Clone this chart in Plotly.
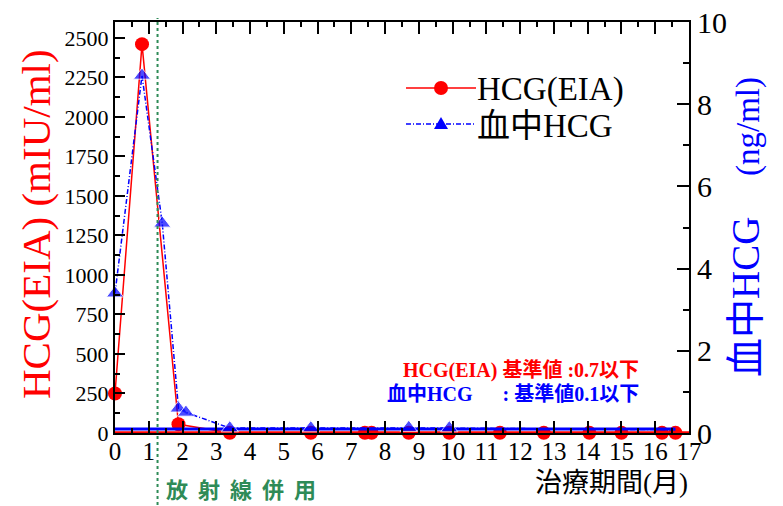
import plotly.graph_objects as go

# ---- data ----
eia_x = [0, 0.8, 1.88, 3.4, 5.8, 7.4, 7.6, 8.7, 9.9, 11.4, 12.7, 14.05, 15.0, 16.2, 16.6]
eia_y = [250, 2460, 55, 1, 1, 1, 1, 1, 1, 1, 1, 1, 1, 1, 1]

blood_x = [0, 0.8, 1.4, 1.88, 2.1, 3.4, 5.8, 8.7, 9.9, 16.6]
blood_y = [3.4, 8.7, 5.1, 0.6, 0.5, 0.12, 0.12, 0.13, 0.12, 0.08]

eia_ref = 0.7      # 基準値 mIU/ml
blood_ref = 0.1    # 基準値 ng/ml
ref_x_eia = [0, 17]
ref_x_blood = [0, 16.6]
radiation_start = 1.26

x_ticks = list(range(0, 18))
y_ticks = list(range(0, 2501, 250))
y2_ticks = list(range(0, 11, 2))

RED = "#FF0000"
BLUE = "#0000FF"
GREEN = "#2E8B57"
SERIF = "Times New Roman, Liberation Serif, Tinos, DejaVu Serif, serif"
GOTHIC = "Times New Roman, Liberation Serif, Noto Sans CJK JP, sans-serif"

fig = go.Figure()

# reference lines
fig.add_trace(go.Scatter(x=ref_x_eia, y=[eia_ref] * 2, mode="lines",
                         line=dict(color=RED, width=3.5), cliponaxis=False,
                         showlegend=False, hoverinfo="skip"))
fig.add_trace(go.Scatter(x=ref_x_blood, y=[blood_ref] * 2, mode="lines", yaxis="y2",
                         line=dict(color=BLUE, width=3), cliponaxis=False,
                         showlegend=False, hoverinfo="skip"))

# series
fig.add_trace(go.Scatter(x=eia_x, y=eia_y, mode="lines+markers", name="HCG(EIA)",
                         line=dict(color=RED, width=1.5),
                         marker=dict(symbol="circle", size=14, color=RED),
                         cliponaxis=False, showlegend=False))
blood_sizes = [15] * (len(blood_x) - 1) + [0]
fig.add_trace(go.Scatter(x=blood_x, y=blood_y, mode="lines+markers", name="血中HCG",
                         yaxis="y2",
                         line=dict(color=BLUE, width=1.5, dash="5px,2px,1px,2px"),
                         marker=dict(symbol="triangle-up", size=blood_sizes, color=BLUE),
                         cliponaxis=False, showlegend=False))

axis_common = dict(showline=True, linecolor="black", linewidth=2, showgrid=False,
                   zeroline=False, ticks="inside", tickwidth=2, tickcolor="black",
                   automargin=False, ticklabeloverflow="allow")

# page body has an 8px margin, so the figure is drawn 8px in and 16px smaller
fig.update_layout(
    template="none",
    width=775, height=498,
    margin=dict(l=107, r=94, t=14, b=73, autoexpand=False),
    plot_bgcolor="white", paper_bgcolor="white",
    showlegend=False,
    xaxis=dict(range=[0, 17], tickvals=x_ticks, ticklen=12, mirror="ticks",
               ticklabelstandoff=-5,
               tickfont=dict(family=SERIF, size=25, color="black"),
               minor=dict(dtick=0.5, ticklen=5, tickwidth=2, ticks="inside", tickcolor="black"),
               **axis_common),
    yaxis=dict(range=[0, 2600], tickvals=y_ticks, ticklen=10,
               tickfont=dict(family=SERIF, size=22, color="black"),
               minor=dict(dtick=125, ticklen=5, tickwidth=2, ticks="inside", tickcolor="black"),
               **axis_common),
    yaxis2=dict(range=[0, 10], tickvals=y2_ticks, ticklen=12, overlaying="y", side="right",
                tickfont=dict(family=SERIF, size=30, color="black"),
                minor=dict(dtick=1, ticklen=6, tickwidth=2, ticks="inside", tickcolor="black"),
                **axis_common),
)

def px_x(p):
    return (p - 115) / 574.0

def px_y(p):
    return (433 - p) / 411.0

# radiation start line
fig.add_shape(type="line", xref="x", yref="paper", x0=radiation_start, x1=radiation_start,
              y0=px_y(505), y1=px_y(18), line=dict(color=GREEN, width=2, dash="dot"))

ann = []
# axis titles
ann.append(dict(text="HCG(EIA) (mIU/ml)", x=px_x(36), y=px_y(224), textangle=-90,
                font=dict(family=SERIF, size=41, color=RED)))
ann.append(dict(text="血中HCG", x=px_x(745), y=px_y(297), textangle=-90,
                font=dict(family=GOTHIC, size=39, color=BLUE)))
ann.append(dict(text="(ng/ml)", x=px_x(748), y=px_y(127), textangle=-90,
                font=dict(family=SERIF, size=33, color=BLUE)))
ann.append(dict(text="治療期間(月)", x=px_x(611), y=px_y(483), borderpad=0,
                font=dict(family=GOTHIC, size=27, color="black")))
ann.append(dict(text="放  射  線  併  用", x=px_x(241), y=px_y(488),
                font=dict(family="Noto Sans CJK JP, sans-serif", size=22, color=GREEN,
                          weight="bold")))
# reference notes
ann.append(dict(text="<b>HCG(EIA) 基準値 :0.7以下</b>",
                x=px_x(641), y=px_y(370), xanchor="right",
                font=dict(family=GOTHIC, size=20, color=RED)))
ann.append(dict(text="<b>血中HCG      : 基準値0.1以下</b>",
                x=px_x(641), y=px_y(394), xanchor="right",
                font=dict(family=GOTHIC, size=20, color=BLUE)))
# manual legend
ann.append(dict(text="HCG(EIA)", x=px_x(475), y=px_y(89), xanchor="left",
                font=dict(family=GOTHIC, size=33, color="black")))
ann.append(dict(text="血中HCG", x=px_x(475), y=px_y(126), xanchor="left",
                font=dict(family=GOTHIC, size=33, color="black")))
for a in ann:
    a.setdefault("xref", "paper")
    a.setdefault("yref", "paper")
    a.setdefault("showarrow", False)
    a.setdefault("xanchor", "center")
    a.setdefault("yanchor", "middle")
    fig.add_annotation(**a)

fig.add_shape(type="line", xref="paper", yref="paper", x0=px_x(406), x1=px_x(476),
              y0=px_y(88), y1=px_y(88), line=dict(color=RED, width=1.5))
fig.add_shape(type="circle", xref="paper", yref="paper", xsizemode="pixel", ysizemode="pixel",
              xanchor=px_x(441), yanchor=px_y(88), x0=-7, x1=7, y0=-7, y1=7,
              fillcolor=RED, line=dict(color=RED, width=0))
fig.add_shape(type="line", xref="paper", yref="paper", x0=px_x(406), x1=px_x(476),
              y0=px_y(124), y1=px_y(124), line=dict(color=BLUE, width=1.5, dash="5px,2px,1px,2px"))
fig.add_shape(type="path", xref="paper", yref="paper", xsizemode="pixel", ysizemode="pixel",
              xanchor=px_x(441), yanchor=px_y(124), path="M-7,-5 L7,-5 L0,7 Z",
              fillcolor=BLUE, line=dict(color=BLUE, width=0))

fig.write_html("out.html")
